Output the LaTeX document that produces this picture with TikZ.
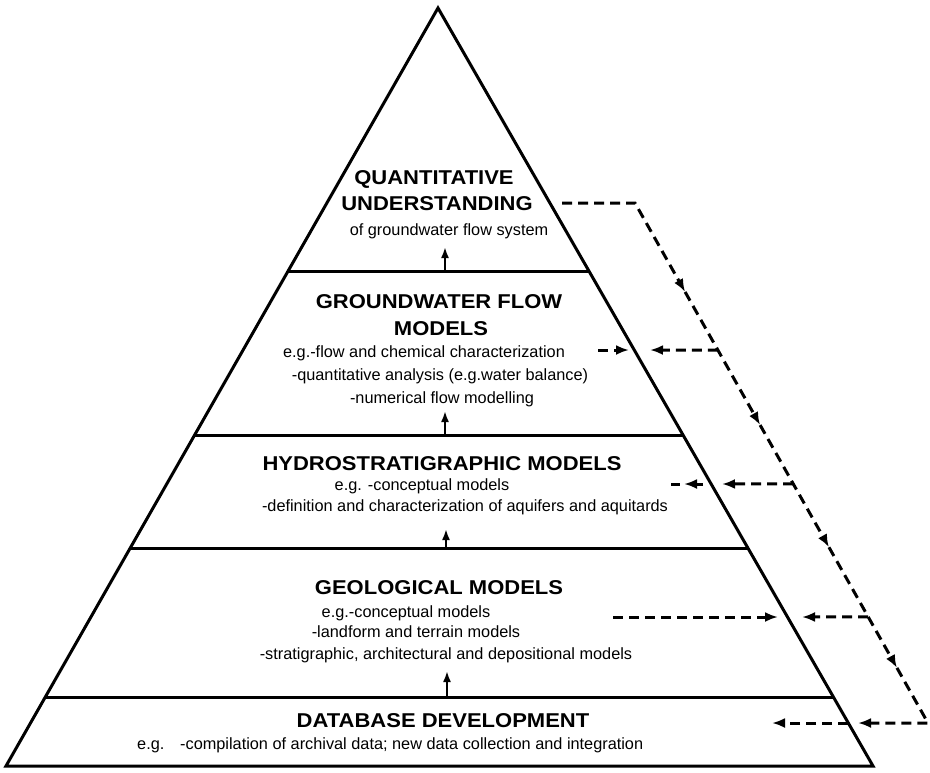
\documentclass[tikz,border=0pt]{standalone}
\usepackage{fontspec}
\setmainfont{Liberation Sans}
\newfontfamily\titlefont[FakeStretch=1.1]{Liberation Sans}
\usetikzlibrary{arrows.meta,calc}
\begin{document}
\begin{tikzpicture}[x=1pt,y=-1pt,
  pyr/.style={line width=3pt, line join=miter},
  levelline/.style={line width=3pt},
  ttl/.style={font=\titlefont\bfseries\fontsize{20}{22}\selectfont, inner sep=0pt, anchor=base},
  bdy/.style={font=\fontsize{16.3}{18}\selectfont, inner sep=0pt, anchor=base},
  uparrow/.style={line width=2pt, -{Latex[length=11pt,width=8pt]}},
  fb/.style={line width=3pt, dash pattern=on 10pt off 6pt, -{Latex[length=13pt,width=10pt]}},
  fbline/.style={line width=3pt, dash pattern=on 10pt off 6pt},
]
\useasboundingbox (0,0) rectangle (930,772);
% pyramid
\coordinate (apex) at (438,8);
\coordinate (bl) at (6,766);
\coordinate (br) at (873,766);
\draw[pyr] (bl) -- (apex) -- (br) -- cycle;
% level lines
\coordinate (l1l) at ($(apex)!0.347!(bl)$);  \coordinate (l1r) at ($(apex)!0.347!(br)$);
\coordinate (l2l) at ($(apex)!0.5646!(bl)$); \coordinate (l2r) at ($(apex)!0.5646!(br)$);
\coordinate (l3l) at ($(apex)!0.7124!(bl)$); \coordinate (l3r) at ($(apex)!0.7124!(br)$);
\coordinate (l4l) at ($(apex)!0.909!(bl)$);  \coordinate (l4r) at ($(apex)!0.909!(br)$);
\draw[levelline] (l1l) -- (l1r);
\draw[levelline] (l2l) -- (l2r);
\draw[levelline] (l3l) -- (l3r);
\draw[levelline] (l4l) -- (l4r);
% texts
\node[ttl] (q1) at (434,184) {QUANTITATIVE};
\node[ttl] (q2) at (437,210) {UNDERSTANDING};
\node[bdy] (q3) at (449,235) {of groundwater flow system};
\node[ttl] (g1) at (439,308) {GROUNDWATER FLOW};
\node[ttl] (g2) at (441,335) {MODELS};
\node[bdy] (g3) at (424,357) {e.g.-flow and chemical characterization};
\node[bdy] (g4) at (440,380) {-quantitative analysis (e.g.water balance)};
\node[bdy] (g5) at (442,403) {-numerical flow modelling};
\node[ttl] (h1) at (442,470) {HYDROSTRATIGRAPHIC MODELS};
\node[bdy] (h2) at (422,490) {e.g. -conceptual models};
\node[bdy] (h3) at (465,511) {-definition and characterization of aquifers and aquitards};
\node[ttl] (o1) at (439,594) {GEOLOGICAL MODELS};
\node[bdy] (o2) at (406,617) {e.g.-conceptual models};
\node[bdy] (o3) at (416,637) {-landform and terrain models};
\node[bdy] (o4) at (446,659) {-stratigraphic, architectural and depositional models};
\node[ttl] (d1) at (443,727) {DATABASE DEVELOPMENT};
\node[bdy, anchor=base west] (d2) at (137,749) {e.g.};
\node[bdy, anchor=base west] (d3) at (180,749) {-compilation of archival data; new data collection and integration};
% upward arrows
\coordinate (a1s) at (445,271); \coordinate (a1e) at (445,247);
\coordinate (a2s) at (445,436); \coordinate (a2e) at (445,411);
\coordinate (a3s) at (446,548); \coordinate (a3e) at (446,529);
\coordinate (a4s) at (447,697); \coordinate (a4e) at (447,671);
\draw[uparrow] (a1s) -- (a1e);
\draw[uparrow] (a2s) -- (a2e);
\draw[uparrow] (a3s) -- (a3e);
\draw[uparrow] (a4s) -- (a4e);
% feedback loop
\coordinate (qs) at (562,203);
\coordinate (ctop) at (635,203);
\coordinate (cbot) at (928,723);
\coordinate (dg1) at ($(ctop)!0.171!(cbot)$);
\coordinate (dg2) at ($(ctop)!0.427!(cbot)$);
\coordinate (dg3) at ($(ctop)!0.662!(cbot)$);
\coordinate (dg4) at ($(ctop)!0.894!(cbot)$);
\draw[fb] (qs) -- (ctop) -- (dg1);
\draw[fb] (dg1) -- (dg2);
\draw[fb] (dg2) -- (dg3);
\draw[fb] (dg3) -- (dg4);
% groundwater level
\coordinate (gwo) at ($(ctop)!0.283!(cbot)$);
\coordinate (gwot) at (650,350);
\coordinate (gwis) at (598,350);
\coordinate (gwit) at (629,350);
\draw[fb] (gwo) -- (gwot);
\draw[fb] (gwis) -- (gwit);
% hydrostratigraphic level
\coordinate (hyo) at ($(ctop)!0.540!(cbot)$);
\coordinate (hyot) at (722,484);
\coordinate (hyis) at (703,484);
\coordinate (hyit) at (684,484);
\draw[fb] (hyo) -- (hyot);
\draw[fb] (hyis) -- (hyit);
\draw[fbline] (671,484) -- (680,484);
% geological level
\coordinate (geo) at ($(ctop)!0.796!(cbot)$);
\coordinate (geot) at (802,617);
\coordinate (geis) at (613,617);
\coordinate (geit) at (778,617);
\draw[fb] (geo) -- (geot);
\draw[fb] (geis) -- (geit);
% database level
\coordinate (dbot) at (858,723);
\coordinate (dbis) at (848,723);
\coordinate (dbit) at (772,723);
\draw[fb] (dg4) -- (cbot) -- (dbot);
\draw[fb] (dbis) -- (dbit);
\end{tikzpicture}
\end{document}
